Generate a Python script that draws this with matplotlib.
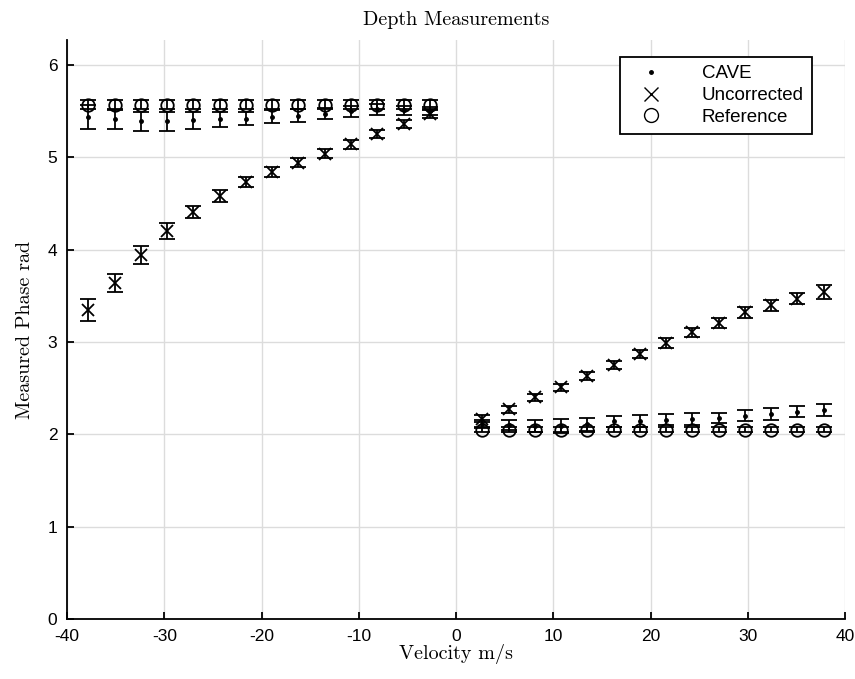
import matplotlib.pyplot as plt
from matplotlib.lines import Line2D

velocity_neg = [-37.8, -35.1, -32.4, -29.7, -27.0, -24.3, -21.6,
                -18.9, -16.2, -13.5, -10.8, -8.1, -5.4, -2.7]
velocity_pos = [2.7, 5.4, 8.1, 10.8, 13.5, 16.2, 18.9,
                21.6, 24.3, 27.0, 29.7, 32.4, 35.1, 37.8]

cave_neg = [5.44, 5.41, 5.39, 5.39, 5.40, 5.41, 5.42,
            5.44, 5.45, 5.47, 5.50, 5.52, 5.51, 5.50]
cave_neg_err = [0.13, 0.10, 0.10, 0.10, 0.09, 0.08, 0.07,
                0.07, 0.07, 0.06, 0.06, 0.06, 0.05, 0.04]
cave_pos = [2.11, 2.10, 2.09, 2.09, 2.11, 2.14, 2.14,
            2.16, 2.17, 2.18, 2.20, 2.22, 2.245, 2.26]
cave_pos_err = [0.04, 0.05, 0.07, 0.08, 0.07, 0.06, 0.065,
                0.06, 0.065, 0.055, 0.06, 0.06, 0.06, 0.065]

uncorr_neg = [3.35, 3.64, 3.94, 4.20, 4.41, 4.58, 4.73,
              4.84, 4.94, 5.04, 5.14, 5.25, 5.36, 5.47]
uncorr_neg_err = [0.12, 0.10, 0.10, 0.087, 0.067, 0.065, 0.055,
                  0.05, 0.05, 0.045, 0.045, 0.045, 0.045, 0.045]
uncorr_pos = [2.17, 2.27, 2.40, 2.51, 2.63, 2.75, 2.87,
              2.99, 3.105, 3.21, 3.32, 3.40, 3.47, 3.545]
uncorr_pos_err = [0.04, 0.04, 0.04, 0.04, 0.04, 0.045, 0.045,
                  0.05, 0.05, 0.055, 0.06, 0.06, 0.06, 0.075]

ref_neg = [5.57] * 14
ref_neg_err = [0.05] * 14
ref_pos = [2.05] * 14
ref_pos_err = [0.03] * 14

plt.rcParams['axes.unicode_minus'] = False

fig = plt.figure(figsize=(8.55, 6.79), dpi=100)
ax = fig.add_axes([0.0784, 0.0884, 0.9099, 0.8526])

style = dict(color='black', ecolor='black', elinewidth=1.3, capsize=6,
             capthick=1.3, linestyle='none', zorder=3)

for v, y, e in [(velocity_neg, ref_neg, ref_neg_err), (velocity_pos, ref_pos, ref_pos_err)]:
    ax.errorbar(v, y, yerr=e, marker='o', markersize=9, markerfacecolor='none',
                markeredgewidth=1.3, **style)
for v, y, e in [(velocity_neg, uncorr_neg, uncorr_neg_err), (velocity_pos, uncorr_pos, uncorr_pos_err)]:
    ax.errorbar(v, y, yerr=e, marker='x', markersize=9, markeredgewidth=1.3, **style)
for v, y, e in [(velocity_neg, cave_neg, cave_neg_err), (velocity_pos, cave_pos, cave_pos_err)]:
    ax.errorbar(v, y, yerr=e, marker='.', markersize=5, **style)

ax.set_xlim(-40, 40)
ax.set_ylim(0, 6.27)
ax.set_xticks(range(-40, 41, 10))
ax.set_yticks(range(0, 7))
ax.grid(True, color='#dcdcdc', linewidth=1.0)
ax.set_axisbelow(True)
for side in ['top', 'right']:
    ax.spines[side].set_visible(False)
for side in ['left', 'bottom']:
    ax.spines[side].set_linewidth(1.3)
ax.tick_params(direction='in', length=5, width=1.3, labelsize=12.5, pad=7)
for lab in ax.get_xticklabels() + ax.get_yticklabels():
    lab.set_fontfamily('Liberation Sans')

ax.set_title('Depth Measurements', fontfamily='cmr10', fontsize=14.5, pad=11)
ax.set_xlabel('Velocity m/s', fontfamily='cmr10', fontsize=14.5, labelpad=0)
ax.set_ylabel('Measured Phase rad', fontfamily='cmr10', fontsize=14.5, labelpad=10)

handles = [
    Line2D([], [], color='black', marker='.', markersize=5, linestyle='none'),
    Line2D([], [], color='black', marker='x', markersize=10, linestyle='none'),
    Line2D([], [], color='black', marker='o', markersize=10, markerfacecolor='none', linestyle='none'),
]
leg = ax.legend(handles, ['CAVE', 'Uncorrected', 'Reference'], loc='upper right',
                bbox_to_anchor=(0.958, 0.971), fancybox=False, framealpha=1,
                edgecolor='black', prop={'family': 'Liberation Sans', 'size': 13.5},
                handletextpad=1.5, labelspacing=0.25, borderpad=0.45,
                handlelength=2.4, borderaxespad=0)
leg.get_frame().set_linewidth(1.3)

fig.savefig('out.png', dpi=100)
